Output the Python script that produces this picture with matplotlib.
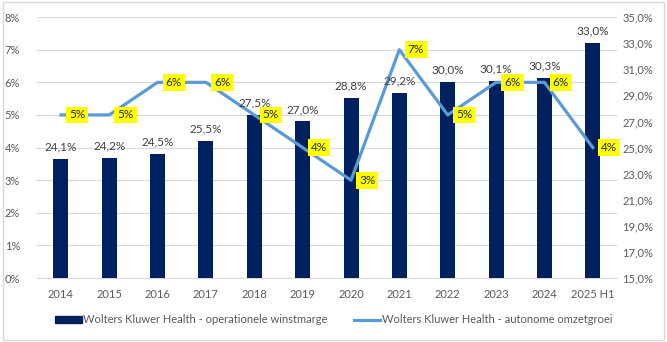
import matplotlib.pyplot as plt
import matplotlib.patches as mpatches
import matplotlib.ticker as mticker
import numpy as np

plt.rcParams['font.family'] = ['Lato', 'DejaVu Sans']

years = ['2014', '2015', '2016', '2017', '2018', '2019', '2020', '2021', '2022', '2023', '2024', '2025 H1']
marge = [24.1, 24.2, 24.5, 25.5, 27.5, 27.0, 28.8, 29.2, 30.0, 30.1, 30.3, 33.0]
groei = [5, 5, 6, 6, 5, 4, 3, 7, 5, 6, 6, 4]

bar_color = '#002060'
line_color = '#5B9BD5'
text_color = '#595959'

fig = plt.figure(figsize=(6.67, 3.42), dpi=100)
ax = fig.add_axes([0.055, 0.187, 0.87, 0.763])
ax2 = ax.twinx()

x = np.arange(len(years))

# bars on right axis (15-35%)
ax2.bar(x, marge, width=0.31, color=bar_color, zorder=2, bottom=0)
ax2.set_ylim(15, 35)
ax2.set_yticks(np.arange(15, 36, 2))
ax2.yaxis.set_major_formatter(mticker.FuncFormatter(lambda v, p: f'{v:.1f}%'.replace('.', ',')))
for xi, v in zip(x, marge):
    ax2.text(xi, v + 0.5, f'{v:.1f}%'.replace('.', ','), ha='center', va='bottom',
             fontsize=8.5, color='#404040', zorder=5)

# line on left axis (0-8%)
ax.set_ylim(0, 8)
ax.set_yticks(np.arange(0, 9, 1))
ax.yaxis.set_major_formatter(mticker.FuncFormatter(lambda v, p: f'{v:.0f}%'))
ax.grid(axis='y', color='#D9D9D9', linewidth=0.8)
ax.set_axisbelow(True)

# draw line in ax2 coordinates so it sits on top of the bars
groei_scaled = [15 + g * 20 / 8 for g in groei]
ax2.plot(x, groei_scaled, color=line_color, linewidth=2.3, zorder=4)
for xi, g, gs in zip(x, groei, groei_scaled):
    ax2.text(xi + 0.17, gs, f'{g}%', ha='left', va='center', fontsize=8.5, color='#262626',
             zorder=6, bbox=dict(boxstyle='square,pad=0.25', facecolor='#FFFF00', edgecolor='none'))

ax.set_xlim(-0.5, len(years) - 0.5)
ax.set_xticks(x)
ax.set_xticklabels(years)

for a in (ax, ax2):
    for s in a.spines.values():
        s.set_visible(False)
    a.tick_params(length=0, labelsize=8, colors=text_color)
ax.spines['bottom'].set_visible(True)
ax.spines['bottom'].set_color('#D9D9D9')
ax.tick_params(axis='x', pad=8)
ax.tick_params(axis='y', pad=12)
ax2.tick_params(axis='y', pad=4)

handles = [mpatches.Patch(color=bar_color, label='Wolters Kluwer Health - operationele winstmarge'),
           plt.Line2D([], [], color=line_color, linewidth=2.3, label='Wolters Kluwer Health - autonome omzetgroei')]
fig.legend(handles=handles, loc='center', bbox_to_anchor=(0.5, 0.065), ncol=2, frameon=False,
           fontsize=8, labelcolor=text_color, handlelength=2.4, handleheight=0.55, columnspacing=2.4,
           handletextpad=0.1)

fig.patches.append(mpatches.Rectangle((0.004, 0.006), 0.992, 0.988, transform=fig.transFigure,
                                      fill=False, edgecolor='#D9D9D9', linewidth=1))

fig.savefig('out.png', dpi=100)
